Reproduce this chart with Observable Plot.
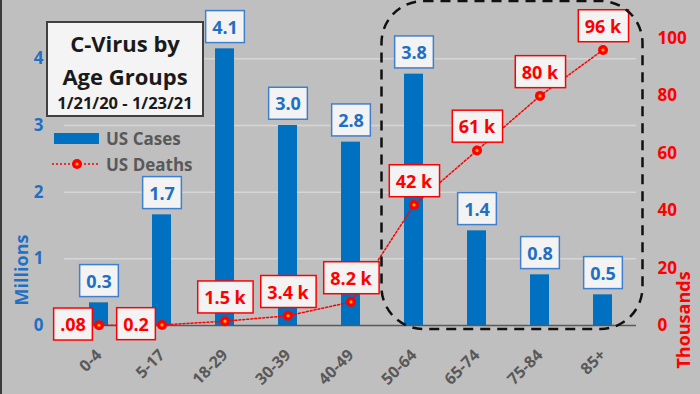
<!DOCTYPE html>
<html><head><meta charset="utf-8">
<script src="https://cdn.jsdelivr.net/npm/d3@7"></script>
<script src="https://cdn.jsdelivr.net/npm/@observablehq/plot@0.6"></script>
<style>
body{margin:0;background:#bfbfbf;}
#chart{position:relative;width:700px;height:394px;background:#bfbfbf;overflow:hidden;}
#chart::before{content:"";position:absolute;left:0;top:0;bottom:0;width:2px;background:#3a3a3a;z-index:5}
svg{display:block}
</style></head><body><div id="chart"></div>
<script>
// ---- data ----
const ages = ["0-4","5-17","18-29","30-39","40-49","50-64","65-74","75-84","85+"];
const cases = [0.34, 1.66, 4.15, 3.0, 2.75, 3.77, 1.42, 0.76, 0.46];          // millions
const caseLabels = ["0.3","1.7","4.1","3.0","2.8","3.8","1.4","0.8","0.5"];
const deaths = [0.08, 0.2, 1.5, 3.4, 8.2, 42, 61, 80, 96];                     // thousands
const deathLabels = [".08","0.2","1.5 k","3.4 k","8.2 k","42 k","61 k","80 k","96 k"];
const leftTicks = [0, 1, 2, 3, 4];
const rightTicks = [0, 20, 40, 60, 80, 100];
const titleLines = ["C-Virus by", "Age Groups", "1/21/20 - 1/23/21"];
const legendItems = ["US Cases", "US Deaths"];
const axisTitles = {left: "Millions", right: "Thousands"};

// secondary axis: millions-axis units per thousand deaths
const K = 4.305 / 100;
const BLUE = "#0070c0", LBLUE = "#1f6fc5", RED = "#ff0000", GRAY = "#595959";

const data = ages.map((a, i) => ({
  age: a, cases: cases[i], deaths: deaths[i] * K,
  caseLabel: caseLabels[i], deathLabel: deathLabels[i], left: i < 2
}));

const plot = Plot.plot({
  width: 700, height: 394,
  marginLeft: 64, marginRight: 64, marginTop: 25, marginBottom: 69,
  x: {domain: ages, paddingInner: 0.7, paddingOuter: 0.35, label: null},
  y: {domain: [0, 4.5], label: null},
  style: {background: "transparent", fontFamily: "'Open Sans', sans-serif", overflow: "visible"},
  marks: [
    Plot.gridY(leftTicks.slice(1), {stroke: "#d6d6d6", strokeOpacity: 1, strokeWidth: 1.5}),
    Plot.barY(data, {x: "age", y: "cases", fill: BLUE}),
    Plot.ruleY([0], {stroke: GRAY, strokeWidth: 1.5}),
    Plot.line(data, {x: "age", y: "deaths", stroke: RED, strokeWidth: 1.5, strokeDasharray: "2,2"}),
    Plot.dot(data, {x: "age", y: "deaths", r: 5, fill: RED, stroke: "none"}),
    Plot.dot(data, {x: "age", y: "deaths", r: 1.6, fill: "#ffb000", stroke: "none"}),
    Plot.text(data, {x: "age", y: "cases", text: "caseLabel", dy: -21, fill: LBLUE,
      fontSize: 18, fontWeight: "bold", className: "case-lbl"}),
    Plot.text(data.filter(d => d.left), {x: "age", y: "deaths", text: "deathLabel", dx: -26,
      fill: RED, fontSize: 18, fontWeight: "bold", className: "death-lbl"}),
    Plot.text(data.filter(d => !d.left), {x: "age", y: "deaths", text: "deathLabel", dy: -23,
      fill: RED, fontSize: 18, fontWeight: "bold", className: "death-lbl"}),
    Plot.axisX({tickRotate: -45, tickSize: 0, tickPadding: 27, color: GRAY, fontSize: 16, fontWeight: "bold", label: null}),
    Plot.axisY({anchor: "left", ticks: leftTicks, tickSize: 0, tickPadding: 21, tickFormat: d => String(d),
      color: LBLUE, fontSize: 17, fontWeight: "bold", label: null}),
    Plot.axisY({anchor: "right", ticks: rightTicks.map(t => t * K), tickSize: 0, tickPadding: 21,
      tickFormat: d => String(Math.round(d / K)), color: RED, fontSize: 17, fontWeight: "bold", label: null})
  ]
});

document.getElementById("chart").append(plot);

// ---- boxes behind data labels ----
function boxLabels(selector, stroke) {
  plot.querySelectorAll(selector + " text").forEach(t => {
    const b = t.getBBox();
    const r = document.createElementNS("http://www.w3.org/2000/svg", "rect");
    const px = 6.5, py = 4;
    r.setAttribute("x", b.x - px); r.setAttribute("y", b.y - py);
    r.setAttribute("width", b.width + 2 * px); r.setAttribute("height", b.height + 2 * py);
    r.setAttribute("fill", "#f3f3f3"); r.setAttribute("stroke", stroke); r.setAttribute("stroke-width", 1.5);
    if (t.getAttribute("transform")) r.setAttribute("transform", t.getAttribute("transform"));
    t.parentNode.insertBefore(r, t);
  });
}
boxLabels(".case-lbl", "#3f7fcf");
boxLabels(".death-lbl", RED);

// ---- annotations ----
const svg = d3.select(plot);
const xs = plot.scale("x"), ys = plot.scale("y");
const bw = xs.bandwidth;
const cx = a => xs.apply(a) + bw / 2;

// dashed rounded highlight around the older age groups
const hx1 = cx("50-64") - 32, hx2 = cx("85+") + 40;
const hy1 = 1, hy2 = ys.apply(0) + 4;
svg.append("rect").attr("x", hx1).attr("y", hy1).attr("width", hx2 - hx1).attr("height", hy2 - hy1)
  .attr("rx", 42).attr("ry", 42).attr("fill", "none").attr("stroke", "#111")
  .attr("stroke-width", 2.5).attr("stroke-dasharray", "10,7");

// axis titles
svg.append("text").attr("transform", "translate(21,270) rotate(-90)").attr("text-anchor", "middle")
  .attr("dominant-baseline", "central").attr("fill", LBLUE).attr("font-size", 18).attr("font-weight", "bold")
  .text(axisTitles.left);
svg.append("text").attr("transform", "translate(683,320) rotate(-90)").attr("text-anchor", "middle")
  .attr("dominant-baseline", "central").attr("fill", RED).attr("font-size", 18).attr("font-weight", "bold")
  .text(axisTitles.right);

// title box
const tg = svg.append("g");
tg.append("rect").attr("x", 47).attr("y", 22).attr("width", 156).attr("height", 94)
  .attr("fill", "#f4f4f4").attr("stroke", "#404040").attr("stroke-width", 2);
[[43, 22], [76, 22], [102, 16.5]].forEach(([y, fs], i) => {
  tg.append("text").attr("x", 125).attr("y", y).attr("text-anchor", "middle").attr("dominant-baseline", "central")
    .attr("font-size", fs).attr("font-weight", "bold").attr("fill", "#1a1a1a").text(titleLines[i]);
});

// legend
const lg = svg.append("g");
lg.append("rect").attr("x", 54).attr("y", 133).attr("width", 45).attr("height", 11).attr("fill", BLUE);
lg.append("line").attr("x1", 52).attr("x2", 100).attr("y1", 164).attr("y2", 164)
  .attr("stroke", RED).attr("stroke-width", 1.5).attr("stroke-dasharray", "2,2");
lg.append("circle").attr("cx", 77).attr("cy", 164).attr("r", 5).attr("fill", RED);
lg.append("circle").attr("cx", 77).attr("cy", 164).attr("r", 1.6).attr("fill", "#ffb000");
legendItems.forEach((s, i) => {
  lg.append("text").attr("x", 106).attr("y", i ? 164 : 138).attr("text-anchor", "start")
    .attr("dominant-baseline", "central")
    .attr("font-size", 17).attr("font-weight", "bold").attr("fill", GRAY).text(s);
});
</script></body></html>
